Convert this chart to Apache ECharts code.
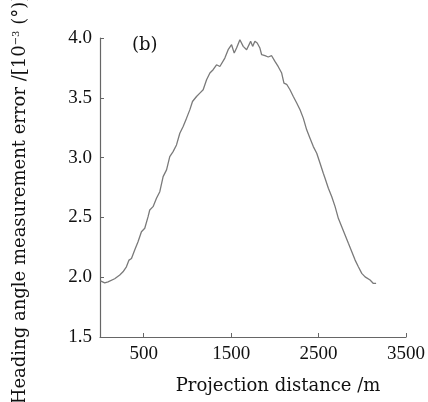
<!DOCTYPE html>
<html>
<head>
<meta charset="utf-8">
<script src="https://cdn.jsdelivr.net/npm/echarts@6/dist/echarts.min.js"></script>
<style>
  html, body { margin: 0; padding: 0; background: #fff; }
  #main { width: 428px; height: 402px; }
</style>
</head>
<body>
<div id="main"></div>
<script>
// projection distance (m)
var distance = [5, 16, 54, 92, 168, 226, 263, 302, 332, 360, 397, 435, 474, 512, 550, 569, 607, 646, 684,
  722, 761, 798, 836, 875, 913, 951, 990, 1027, 1058, 1104, 1142, 1180, 1219, 1257, 1294, 1333, 1371,
  1428, 1466, 1505, 1535, 1562, 1600, 1638, 1677, 1695, 1723, 1746, 1772, 1798, 1829, 1849, 1887, 1924,
  1963, 2001, 2039, 2078, 2104, 2135, 2173, 2211, 2250, 2288, 2325, 2364, 2402, 2440, 2479, 2517, 2554,
  2574, 2612, 2651, 2689, 2726, 2765, 2803, 2841, 2880, 2918, 2955, 2994, 3032, 3089, 3127, 3158];
// heading angle error (10^-3 deg)
var headingErr = [1.97, 1.976, 1.953, 1.961, 1.987, 2.018, 2.045, 2.087, 2.143, 2.157, 2.227, 2.296, 2.380, 2.409, 2.506, 2.562, 2.590, 2.660, 2.715,
  2.841, 2.897, 3.008, 3.050, 3.106, 3.204, 3.260, 3.330, 3.399, 3.469, 3.511, 3.539, 3.567, 3.651, 3.707, 3.735, 3.776, 3.762,
  3.832, 3.902, 3.944, 3.874, 3.916, 3.986, 3.930, 3.902, 3.916, 3.972, 3.930, 3.972, 3.958, 3.916, 3.860, 3.852, 3.841,
  3.852, 3.804, 3.760, 3.707, 3.623, 3.613, 3.567, 3.511, 3.456, 3.400, 3.330, 3.232, 3.162, 3.092, 3.037, 2.953, 2.869,
  2.827, 2.744, 2.673, 2.590, 2.492, 2.422, 2.353, 2.283, 2.213, 2.143, 2.087, 2.032, 2.003, 1.976, 1.948, 1.948];
var xTicks = [500, 1500, 2500, 3500];

var serif = '"Liberation Serif", "DejaVu Serif", serif';
var wideSerif = '"DejaVu Serif", serif';
var chart = echarts.init(document.getElementById('main'));

var points = distance.map(function (d, i) { return [d, headingErr[i]]; });

var option = {
  backgroundColor: '#ffffff',
  animation: false,
  grid: { left: 100, top: 38, right: 22, bottom: 65, outerBoundsMode: 'none', containLabel: false },
  xAxis: {
    type: 'value',
    min: 0,
    max: 3500,
    name: 'Projection distance /m',
    nameLocation: 'middle',
    nameGap: 40,
    nameTextStyle: { fontFamily: wideSerif, fontSize: 18, color: '#111', padding: [0, 0, 0, 50] },
    axisLine: { show: true, lineStyle: { color: '#666', width: 1.2 } },
    axisTick: { show: true, inside: true, length: 4, customValues: xTicks, lineStyle: { color: '#666' } },
    axisLabel: {
      customValues: xTicks, margin: 8, fontFamily: serif, fontSize: 19, color: '#111',
      formatter: function (v) { return String(v); }
    },
    splitLine: { show: false }
  },
  yAxis: {
    type: 'value',
    min: 1.5,
    max: 4.0,
    interval: 0.5,
    name: '{a|Heading angle measurement error /[10}{s|\u22123}{a| (\u00b0)]}',
    nameLocation: 'middle',
    nameGap: 70,
    nameTextStyle: {
      padding: [0, 24, 0, 0],
      rich: {
        a: { fontFamily: wideSerif, fontSize: 18, color: '#111' },
        s: { fontFamily: wideSerif, fontSize: 10, color: '#111', padding: [0, 0, 9, 0] }
      }
    },
    axisLine: { show: true, lineStyle: { color: '#666', width: 1.2 } },
    axisTick: { show: true, inside: true, length: 4, lineStyle: { color: '#666' } },
    axisLabel: {
      margin: 8, fontFamily: serif, fontSize: 19, color: '#111',
      formatter: function (v) { return v.toFixed(1); }
    },
    splitLine: { show: false }
  },
  graphic: [{
    type: 'text',
    left: 132,
    top: 36,
    style: { text: '(b)', font: '18px ' + wideSerif, fill: '#111' }
  }],
  series: [{
    type: 'line',
    data: points,
    showSymbol: false,
    smooth: false,
    lineStyle: { color: '#7a7a7a', width: 1.3 }
  }]
};
chart.setOption(option);
</script>
</body>
</html>
